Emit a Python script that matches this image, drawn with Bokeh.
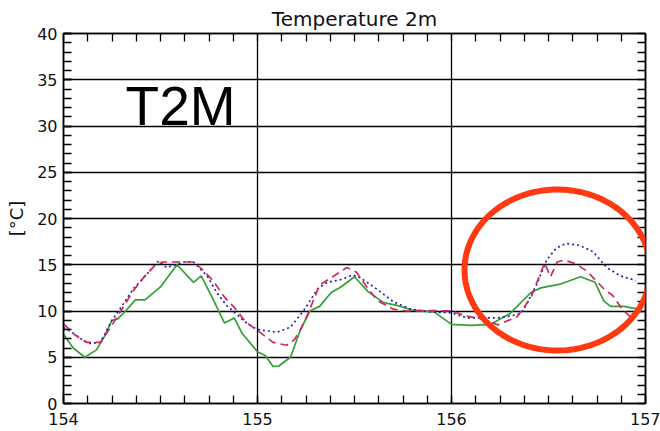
import numpy as np
from bokeh.plotting import figure
from bokeh.models import Range1d, FixedTicker, LinearAxis, Label, PolyAnnotation, Grid
from bokeh.embed import file_html
from bokeh.resources import INLINE

# Time axis in days, temperature at 2 m in degrees Celsius
green_x = [154.00, 154.05, 154.11, 154.17, 154.21, 154.25, 154.28, 154.32, 154.37, 154.42,
           154.50, 154.585, 154.67, 154.71, 154.77, 154.83, 154.88, 154.92, 155.00, 155.04,
           155.08, 155.11, 155.17, 155.22, 155.27, 155.32, 155.38, 155.43, 155.50, 155.57,
           155.65, 155.72, 155.80, 155.91, 156.00, 156.10, 156.20, 156.30, 156.41, 156.46,
           156.56, 156.665, 156.74, 156.785, 156.82, 156.89, 156.96]
green_y = [7.5, 6.0, 5.0, 5.8, 7.2, 9.0, 9.15, 10.0, 11.2, 11.2,
           12.6, 15.0, 13.1, 13.8, 11.3, 8.7, 9.25, 7.6, 5.6, 5.2,
           4.0, 4.05, 5.0, 7.9, 10.0, 10.5, 12.0, 12.6, 13.7, 12.1,
           10.9, 10.6, 10.1, 9.9, 8.55, 8.45, 8.55, 9.7, 12.0, 12.5,
           12.9, 13.7, 13.1, 11.1, 10.5, 10.5, 10.2]

blue_x = [154.00, 154.05, 154.09, 154.13, 154.19, 154.25, 154.30, 154.36, 154.43, 154.49,
          154.53, 154.58, 154.61, 154.67, 154.74, 154.79, 154.84, 154.90, 154.95, 155.00,
          155.10, 155.17, 155.24, 155.31, 155.36, 155.43, 155.49, 155.53, 155.60, 155.70,
          155.79, 155.89, 156.00, 156.08, 156.24, 156.34, 156.37, 156.44, 156.49, 156.54,
          156.59, 156.66, 156.73, 156.80, 156.87, 156.95]
blue_y = [8.2, 7.6, 7.0, 6.5, 6.6, 9.0, 10.5, 12.4, 14.0, 15.4,
          14.7, 15.0, 15.3, 15.3, 13.8, 12.0, 10.6, 9.5, 8.6, 8.0,
          7.7, 8.25, 10.1, 12.4, 13.1, 13.4, 13.9, 13.6, 12.6, 11.0,
          10.2, 9.9, 9.8, 9.25, 9.25, 9.6, 10.05, 12.9, 15.5, 16.8,
          17.3, 17.1, 16.4, 14.7, 13.8, 13.3]

red_x = [154.00, 154.06, 154.12, 154.19, 154.26, 154.31, 154.36, 154.42, 154.47, 154.51,
         154.67, 154.72, 154.77, 154.83, 154.88, 154.94, 155.00, 155.08, 155.15, 155.19,
         155.22, 155.26, 155.32, 155.41, 155.46, 155.51, 155.57, 155.62, 155.70, 155.77,
         155.88, 156.00, 156.07, 156.16, 156.24, 156.34, 156.41, 156.48, 156.51, 156.545,
         156.58, 156.64, 156.70, 156.73, 156.79, 156.83, 156.88, 156.93]
red_y = [8.6, 7.4, 6.6, 6.6, 8.8, 10.5, 12.2, 13.8, 14.9, 15.3,
         15.3, 14.4, 13.3, 11.5, 10.4, 8.8, 7.9, 6.6, 6.3, 6.9,
         7.9, 9.7, 12.8, 14.0, 14.7, 14.2, 12.4, 11.1, 10.2, 10.0,
         10.05, 10.0, 9.5, 9.1, 8.5, 9.4, 11.5, 15.2, 13.7, 15.3,
         15.5, 15.1, 14.3, 13.6, 12.3, 11.7, 10.2, 9.2]

x_major = [154, 155, 156, 157]
x_minor = [154 + i * 0.125 for i in range(25)]
y_major = list(range(0, 41, 5))
y_minor = list(range(0, 41))

p = figure(width=660, height=431,
           x_range=Range1d(154, 157), y_range=Range1d(0, 40),
           x_axis_type=None, y_axis_type=None,
           output_backend="svg", toolbar_location=None,
           min_border_left=63, min_border_right=15,
           min_border_top=33, min_border_bottom=28)
p.background_fill_color = "white"
p.border_fill_color = "white"
p.outline_line_color = "black"
p.outline_line_width = 1.5

p.title.text = "Temperature 2m"
p.title.align = "center"
p.title.text_font = "DejaVu Sans"
p.title.text_font_size = "20px"
p.title.text_font_style = "normal"
p.title.text_color = "#111111"
p.title.standoff = 6

xt = FixedTicker(ticks=x_major, minor_ticks=x_minor)
yt = FixedTicker(ticks=y_major, minor_ticks=y_minor)
# opposite sides only carry the small inward ticks, no labels
xt_plain = FixedTicker(ticks=[], minor_ticks=x_minor)
yt_plain = FixedTicker(ticks=[], minor_ticks=y_minor)


def style_axis(ax):
    ax.axis_line_color = "black"
    ax.axis_line_width = 1.5
    ax.major_tick_line_color = "black"
    ax.minor_tick_line_color = "black"
    ax.major_tick_line_width = 1.3
    ax.minor_tick_line_width = 1.3
    ax.major_tick_in = 8
    ax.major_tick_out = 0
    ax.minor_tick_in = 8
    ax.minor_tick_out = 0
    ax.major_label_text_font = "DejaVu Sans"
    ax.major_label_text_font_size = "16px"
    ax.major_label_text_color = "#111111"


bottom = LinearAxis(ticker=xt)
style_axis(bottom)
bottom.major_label_standoff = 9
p.add_layout(bottom, "below")

left = LinearAxis(ticker=yt, axis_label="[°C]")
style_axis(left)
left.major_label_standoff = 6
left.axis_label_standoff = 7
left.axis_label_text_font = "DejaVu Sans"
left.axis_label_text_font_size = "18px"
left.axis_label_text_font_style = "normal"
left.axis_label_text_color = "#111111"
p.add_layout(left, "left")

top = LinearAxis(ticker=xt_plain)
style_axis(top)
top.major_label_standoff = 0
p.add_layout(top, "above")

right = LinearAxis(ticker=yt_plain)
style_axis(right)
right.major_label_standoff = 0
p.add_layout(right, "right")

p.add_layout(Grid(dimension=0, ticker=xt, grid_line_color="black", grid_line_width=1.3))
p.add_layout(Grid(dimension=1, ticker=yt, grid_line_color="black", grid_line_width=1.3))

# Model series
p.line(green_x, green_y, line_color="#34a034", line_width=1.7)
p.line(blue_x, blue_y, line_color="#2424a8", line_width=1.7, line_dash="2 3")
p.line(red_x, red_y, line_color="#cc2a60", line_width=1.7, line_dash="8 5")

# Big variable name
p.add_layout(Label(x=154.32, y=28.8, text="T2M", text_font="Liberation Sans",
                   text_font_size="55px", text_baseline="bottom", text_color="black"))

# Highlight ring around the last day's peak
cx, cy, rx, ry = 156.546, 14.43, 0.479, 8.7
t = np.linspace(0, 2 * np.pi, 200)
p.add_layout(PolyAnnotation(xs=list(cx + rx * np.cos(t)), ys=list(cy + ry * np.sin(t)),
                            fill_color=None, fill_alpha=0,
                            line_color="#ff3a12", line_alpha=1.0, line_width=6))

open("out.html", "w").write(file_html(p, INLINE))
